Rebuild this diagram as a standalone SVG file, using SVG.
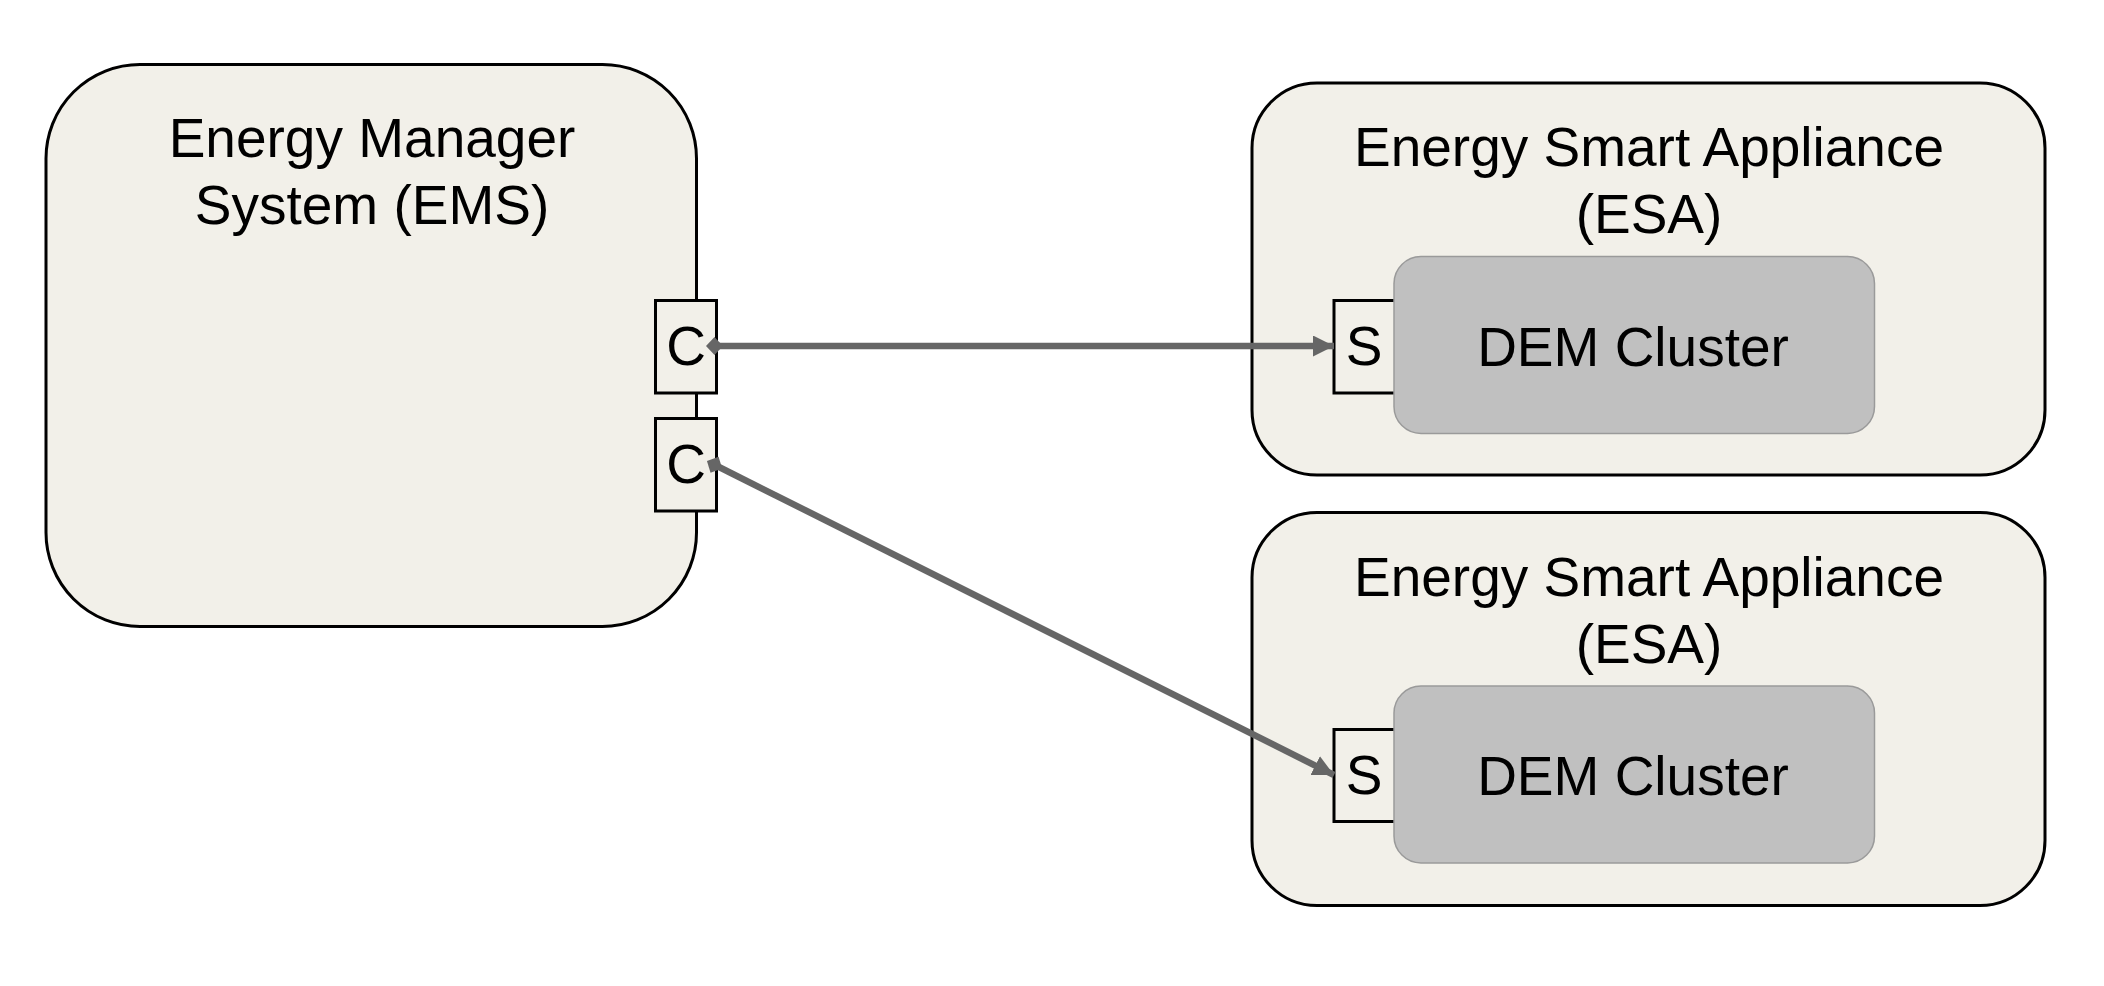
<svg xmlns="http://www.w3.org/2000/svg" width="2104" height="986" viewBox="0 0 2104 986">
<style>
.box{fill:#f2f0e9;stroke:#000;stroke-width:3}
.port{fill:#f2f0e9;stroke:#000;stroke-width:3}
.dem{fill:#c0c0c0;stroke:#9a9a9a;stroke-width:1.5}
.t{font-family:"Liberation Sans",Arial,sans-serif;font-size:55px;fill:#000;text-anchor:middle}
.conn{stroke:#666;stroke-width:6.5;fill:none}
</style>
<defs>
<marker id="arrow" markerUnits="userSpaceOnUse" markerWidth="22" markerHeight="22" refX="21" refY="10.5" orient="auto">
<path d="M0,0 L21,10.5 L0,21 z" fill="#666"/>
</marker>
<marker id="diamond" markerUnits="userSpaceOnUse" markerWidth="20" markerHeight="20" refX="9" refY="9.5" orient="auto">
<path d="M0,9.5 L8.5,0.5 L17,9.5 L8.5,18.5 z" fill="#666"/>
</marker>
</defs>
<rect width="2104" height="986" fill="#fff"/>
<g id="ems">
<rect class="box" x="46" y="64.5" width="650.5" height="562" rx="94" ry="94"/>
<text class="t" x="372" y="157">Energy Manager</text>
<text class="t" x="372" y="224">System (EMS)</text>
</g>
<g id="ems-port-1">
<rect class="port" x="655.5" y="300.5" width="61" height="92.5"/>
<text class="t" x="686" y="365">C</text>
</g>
<g id="ems-port-2">
<rect class="port" x="655.5" y="418.5" width="61" height="92.5"/>
<text class="t" x="686" y="483">C</text>
</g>
<g id="esa-1">
<rect class="box" x="1252" y="83" width="793" height="392" rx="65" ry="65"/>
<text class="t" x="1649" y="166">Energy Smart Appliance</text>
<text class="t" x="1649" y="233">(ESA)</text>
</g>
<g id="esa-1-port">
<rect class="port" x="1334" y="300.5" width="66" height="92.5"/>
<text class="t" x="1364" y="365">S</text>
</g>
<g id="esa-1-dem">
<rect class="dem" x="1394" y="256.5" width="480.5" height="177" rx="27" ry="27"/>
<text class="t" x="1633" y="366">DEM Cluster</text>
</g>
<g id="esa-2">
<rect class="box" x="1252" y="512.5" width="793" height="393" rx="65" ry="65"/>
<text class="t" x="1649" y="596">Energy Smart Appliance</text>
<text class="t" x="1649" y="663">(ESA)</text>
</g>
<g id="esa-2-port">
<rect class="port" x="1334" y="729.5" width="66" height="92"/>
<text class="t" x="1364" y="794">S</text>
</g>
<g id="esa-2-dem">
<rect class="dem" x="1394" y="686" width="480.5" height="177" rx="27" ry="27"/>
<text class="t" x="1633" y="795">DEM Cluster</text>
</g>
<g id="connectors">
<line class="conn" x1="715" y1="346" x2="1334" y2="346" marker-start="url(#diamond)" marker-end="url(#arrow)"/>
<line class="conn" x1="715" y1="465" x2="1334" y2="775" marker-start="url(#diamond)" marker-end="url(#arrow)"/>
</g>
</svg>
